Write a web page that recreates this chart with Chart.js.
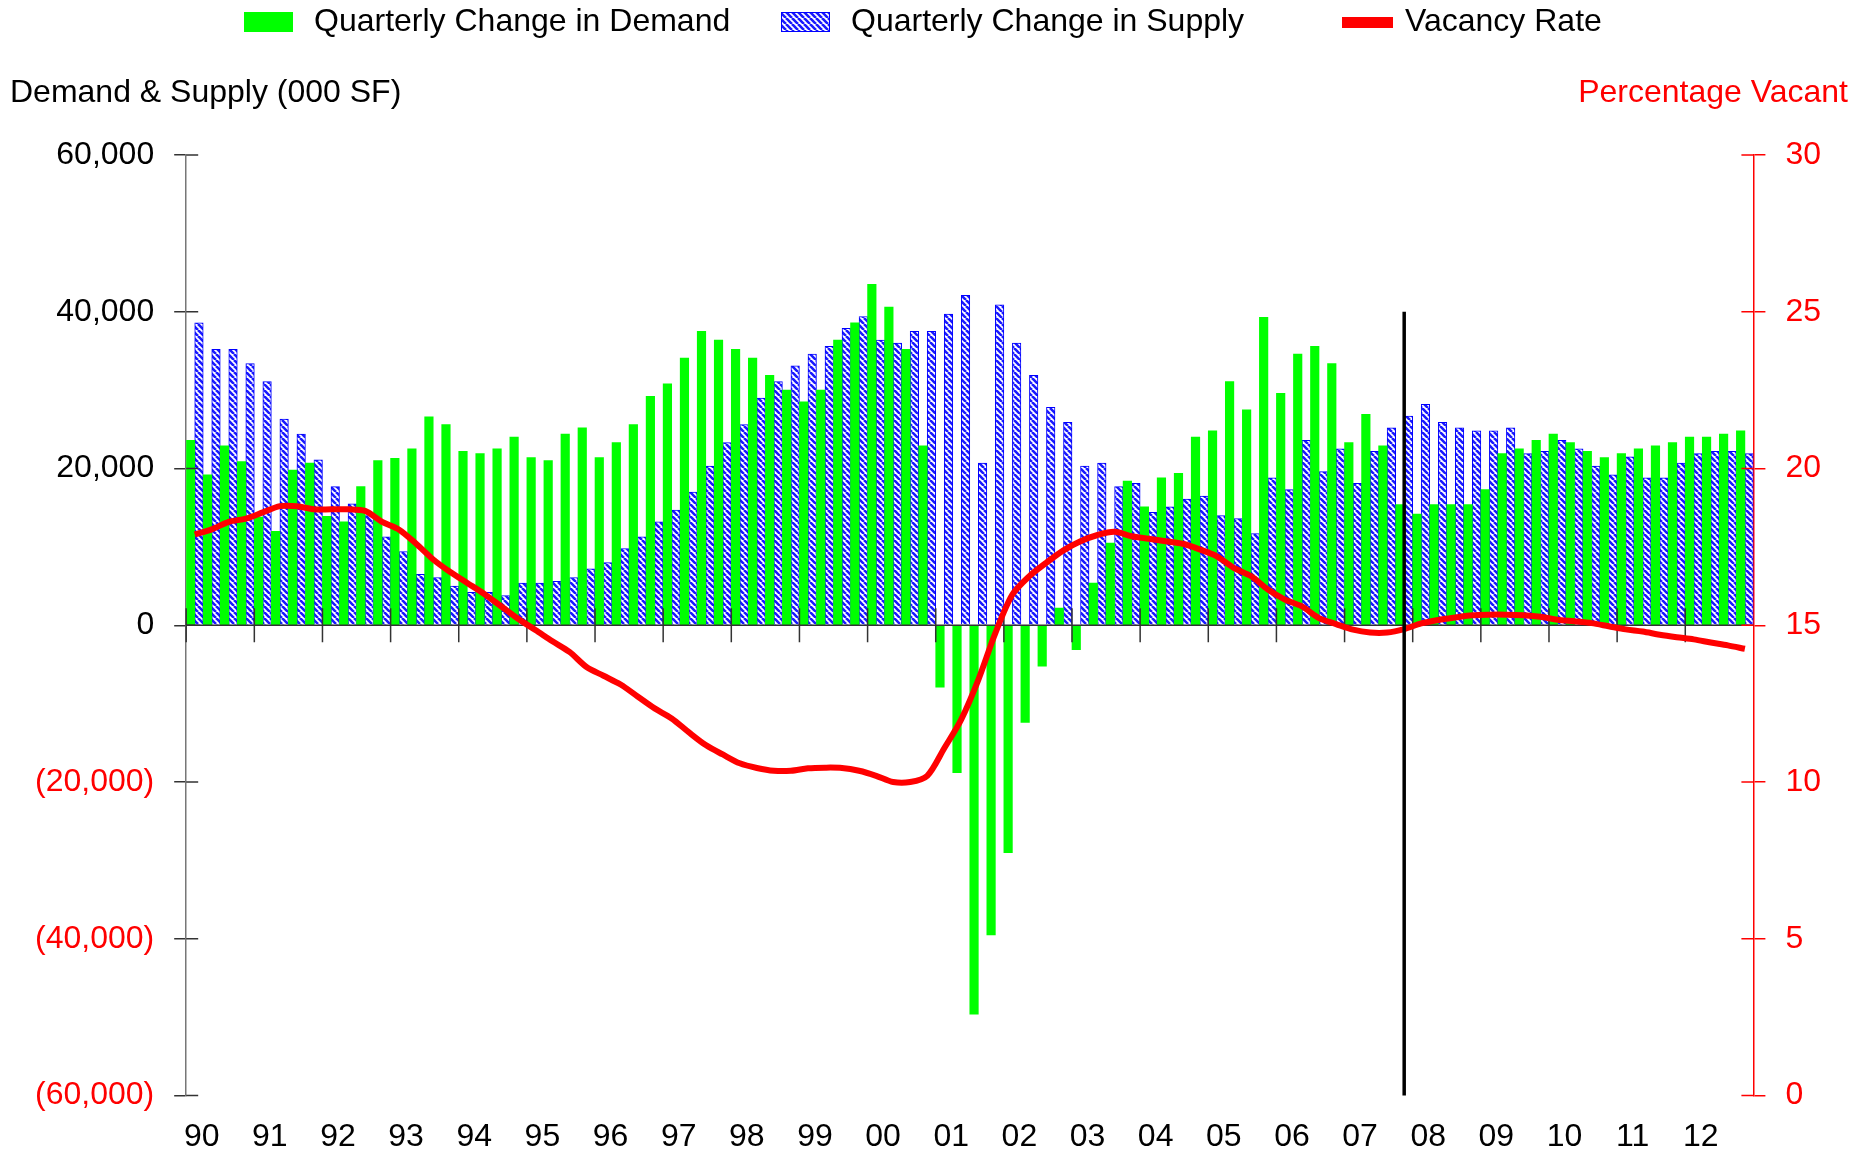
<!DOCTYPE html>
<html>
<head>
<meta charset="utf-8">
<script src="https://cdn.jsdelivr.net/npm/chart.js@4.4.0/dist/chart.umd.min.js"></script>
<style>
  html, body { margin: 0; padding: 0; background: #fff; }
  canvas { display: block; }
</style>
</head>
<body>
<canvas id="chart1" width="1874" height="1154"></canvas>
<script>
// years on the x axis, 4 quarters each
const years = ['90','91','92','93','94','95','96','97','98','99','00','01','02','03','04','05','06','07','08','09','10','11','12']

// quarterly change in demand (000 SF)
const demand = [
  23600, 19200, 22900, 20900,  13800, 12000, 19800, 20700,  13900, 13200, 17700, 21000,
  21300, 22500, 26600, 25600,  22200, 21900, 22500, 24000,  21400, 21000, 24400, 25200,
  21400, 23300, 25600, 29200,  30800, 34100, 37500, 36400,  35200, 34100, 31900, 30000,
  28500, 30000, 36400, 38600,  43500, 40600, 35200, 22900,  -7900, -18800, -49600, -39500,
  -29000, -12400, -5200, 2200, -3100, 5400, 10500, 18400,  15100, 18800, 19400, 24000,
  24800, 31100, 27500, 39300,  29600, 34600, 35600, 33400,  23300, 26900, 22900, 15400,
  14200, 15400, 15400, 15400,  17300, 21900, 22500, 23600,  24400, 23300, 22200, 21400,
  21900, 22500, 22900, 23300,  24000, 24000, 24400, 24800
]

// quarterly change in supply (000 SF)
const supply = [
  38600, 35200, 35200, 33400,  31100, 26300, 24400, 21100,  17700, 15500, 14000, 11300,
  9400, 6500, 6100, 5000,  4200, 4200, 3800, 5400,  5400, 5600, 6100, 7200,
  8000, 9800, 11300, 13200,  14700, 17000, 20300, 23300,  25600, 29000, 31100, 33100,
  34600, 35600, 37900, 39400,  36400, 36000, 37500, 37500,  39700, 42100, 20700, 40900,
  36000, 31900, 27800, 25900,  20300, 20700, 17700, 18100,  14400, 15100, 16100, 16500,
  14000, 13600, 11700, 18800,  17300, 23600, 19600, 22500,  18100, 22200, 25200, 26700,
  28200, 25900, 25200, 24800,  24800, 25200, 21900, 22200,  23600, 22500, 20300, 19200,
  21500, 18800, 18800, 20700,  21900, 22200, 22200, 21900
]

// vacancy rate (%)
const vacancy = [
  17.9, 18.06, 18.3, 18.4,  18.6, 18.8, 18.8, 18.7,  18.7, 18.7, 18.65, 18.3,
  18.05, 17.6, 17.1, 16.7,  16.35, 16.0, 15.6, 15.2,  14.85, 14.49, 14.15, 13.67,
  13.39, 13.11, 12.73, 12.35,  12.03, 11.59, 11.18, 10.88,  10.6, 10.45, 10.36, 10.36,
  10.44, 10.46, 10.45, 10.36,  10.2, 10.0, 10.0, 10.2,  11.08, 12.0, 13.26, 14.75,
  15.98, 16.57, 17.0, 17.39,  17.68, 17.88, 17.98, 17.84,  17.76, 17.68, 17.6, 17.42,
  17.2, 16.83, 16.57, 16.14,  15.82, 15.6, 15.23, 15.04,  14.86, 14.77, 14.77, 14.88,
  15.06, 15.17, 15.25, 15.32,  15.34, 15.34, 15.32, 15.27,  15.18, 15.13, 15.07, 14.97,
  14.87, 14.8, 14.7, 14.62,  14.55, 14.45, 14.36, 14.25
]

const quarters = years.flatMap(y => ['Q1','Q2','Q3','Q4'].map(q => y + ' ' + q))
const dividerQuarter = '07 Q4'

const FONT = 'Liberation Sans, Arial, Helvetica, sans-serif'
const GREEN = '#00ff00'
const BLUE = '#0000ff'
const RED = '#ff0000'

// white/blue diagonal hatch for the supply bars
function hatch() {
  const s = 6
  const c = document.createElement('canvas')
  c.width = s; c.height = s
  const g = c.getContext('2d')
  g.fillStyle = '#ffffff'
  g.fillRect(0, 0, s, s)
  g.strokeStyle = '#1a1aff'
  g.lineWidth = 2.6
  g.beginPath()
  for (const o of [-s, 0, s]) {
    g.moveTo(o, 0)
    g.lineTo(o + s, s)
  }
  g.stroke()
  return g.createPattern(c, 'repeat')
}
const hatchFill = hatch()

const fmt = v => Math.abs(v).toLocaleString('en-US')

// zero axis, inner tick marks, forecast divider, legend and axis titles
const decor = {
  id: 'decor',
  beforeDatasetDraw(chart, args) {
    if (args.index !== 2) return
    const {ctx, chartArea, scales} = chart
    const x = scales.x, y = scales.y
    const y0 = y.getPixelForValue(0)
    const half = (x.getPixelForValue(1) - x.getPixelForValue(0)) / 2
    ctx.save()
    ctx.strokeStyle = '#333'
    ctx.lineWidth = 1.5
    ctx.beginPath()
    ctx.moveTo(chartArea.left, y0)
    ctx.lineTo(chartArea.right, y0)
    for (let j = 0; j < years.length; j++) {
      const px = x.getPixelForValue(j * 4) - half
      ctx.moveTo(px, y0 - 17)
      ctx.lineTo(px, y0 + 17)
    }
    ctx.stroke()
    ctx.restore()
  },
  afterDatasetsDraw(chart) {
    const {ctx, chartArea, scales} = chart
    const x = scales.x, y = scales.y
    ctx.save()
    ctx.strokeStyle = '#000'
    ctx.lineWidth = 3.5
    const px = x.getPixelForValue(quarters.indexOf(dividerQuarter))
    ctx.beginPath()
    ctx.moveTo(px, y.getPixelForValue(40000))
    ctx.lineTo(px, chartArea.bottom)
    ctx.stroke()
    ctx.restore()
  },
  afterDraw(chart) {
    const {ctx, chartArea, scales} = chart
    ctx.save()
    ctx.lineWidth = 1.5
    ctx.strokeStyle = '#333'
    ctx.beginPath()
    scales.y.ticks.forEach(t => {
      const py = scales.y.getPixelForValue(t.value)
      ctx.moveTo(chartArea.left, py)
      ctx.lineTo(chartArea.left + 12, py)
    })
    ctx.stroke()
    ctx.strokeStyle = RED
    ctx.beginPath()
    scales.y1.ticks.forEach(t => {
      const py = scales.y1.getPixelForValue(t.value)
      ctx.moveTo(chartArea.right - 12, py)
      ctx.lineTo(chartArea.right, py)
    })
    ctx.stroke()

    // legend
    ctx.font = '32px ' + FONT
    ctx.textBaseline = 'middle'
    ctx.textAlign = 'left'
    const ds = chart.data.datasets
    const slots = [244, 781, 1342]
    ds.forEach((d, i) => {
      const bx = slots[i]
      if (d.type === 'line') {
        ctx.fillStyle = RED
        ctx.fillRect(bx, 17, 51, 11)
        ctx.fillStyle = '#000'
        ctx.fillText(d.label, bx + 51 + 12, 22)
      } else {
        ctx.fillStyle = d.backgroundColor
        ctx.fillRect(bx, 12, 49, 20)
        if (d.borderWidth) {
          ctx.strokeStyle = d.borderColor
          ctx.lineWidth = 1
          ctx.strokeRect(bx + 0.5, 12.5, 48, 19)
        }
        ctx.fillStyle = '#000'
        ctx.fillText(d.label, bx + 49 + 21, 22)
      }
    })

    // axis titles
    ctx.fillStyle = '#000'
    ctx.fillText('Demand & Supply (000 SF)', 10, 93)
    ctx.fillStyle = RED
    ctx.textAlign = 'right'
    ctx.fillText('Percentage Vacant', 1848, 93)
    ctx.restore()
  }
}

new Chart(document.getElementById('chart1'), {
  data: {
    labels: quarters,
    datasets: [
      {
        type: 'bar', label: 'Quarterly Change in Demand', data: demand,
        backgroundColor: GREEN, borderWidth: 0, yAxisID: 'y', order: 1,
        barPercentage: 1, categoryPercentage: 1
      },
      {
        type: 'bar', label: 'Quarterly Change in Supply', data: supply,
        backgroundColor: hatchFill, borderColor: BLUE, borderWidth: 1, yAxisID: 'y', order: 1,
        barPercentage: 1, categoryPercentage: 1
      },
      {
        type: 'line', label: 'Vacancy Rate', data: vacancy,
        borderColor: RED, borderWidth: 6, pointRadius: 0, tension: 0.3,
        fill: false, yAxisID: 'y1', order: 0
      }
    ]
  },
  options: {
    responsive: false,
    animation: false,
    devicePixelRatio: 1,
    layout: { padding: { top: 155, left: 15, right: 33, bottom: -24 } },
    plugins: {
      legend: { display: false },
      tooltip: { enabled: false }
    },
    scales: {
      x: {
        type: 'category',
        offset: true,
        grid: { display: false, drawTicks: false },
        border: { display: false },
        ticks: {
          autoSkip: false, maxRotation: 0, minRotation: 0,
          padding: 22, labelOffset: 7, color: '#000',
          font: { family: FONT, size: 32 },
          callback: (v, i) => i % 4 === 0 ? years[i / 4] : ''
        }
      },
      y: {
        position: 'left',
        min: -60000, max: 60000,
        ticks: {
          stepSize: 20000, padding: 20,
          font: { family: FONT, size: 32 },
          color: c => c.tick && c.tick.value < 0 ? RED : '#000',
          callback: v => v < 0 ? '(' + fmt(v) + ')' : fmt(v)
        },
        grid: { drawOnChartArea: false, drawTicks: true, tickLength: 12, color: '#333', lineWidth: 1.5 },
        border: { color: '#777', width: 1.5 }
      },
      y1: {
        position: 'right',
        min: 0, max: 30,
        ticks: {
          stepSize: 5, padding: 20, color: RED,
          font: { family: FONT, size: 32 }
        },
        grid: { drawOnChartArea: false, drawTicks: true, tickLength: 12, color: RED, lineWidth: 1.5 },
        border: { color: RED, width: 1.5 }
      }
    }
  },
  plugins: [decor]
})
</script>
</body>
</html>
